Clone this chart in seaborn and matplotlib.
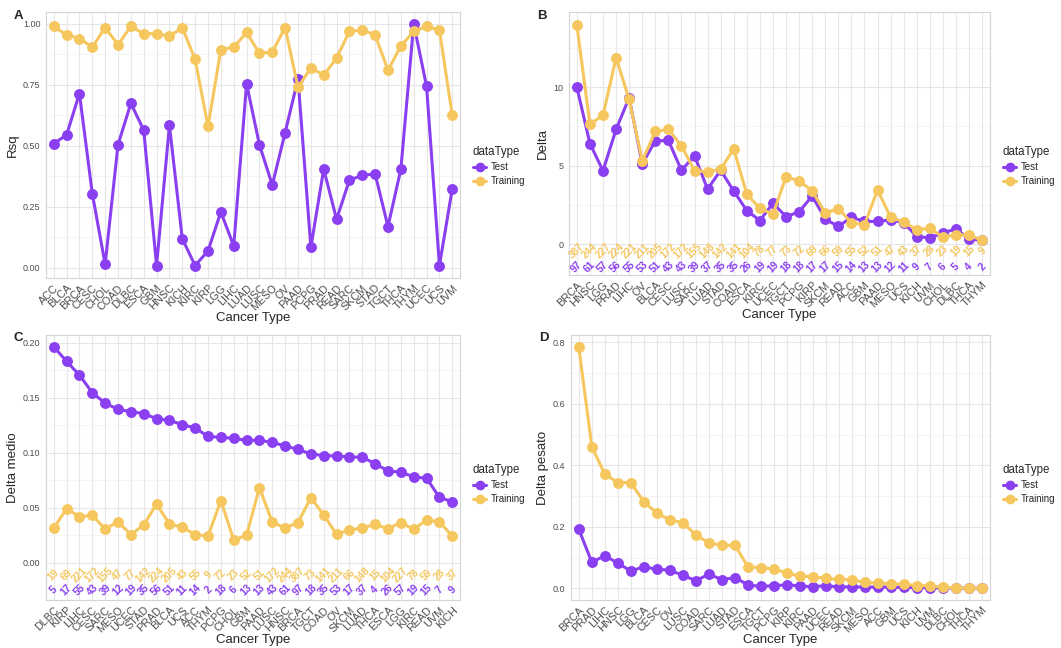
import numpy as np
import pandas as pd
import matplotlib
matplotlib.use("Agg")
import matplotlib.pyplot as plt
from matplotlib.ticker import MultipleLocator, FormatStrFormatter
from matplotlib.lines import Line2D
import seaborn as sns

# ---- data ----
order_a = ['ACC', 'BLCA', 'BRCA', 'CESC', 'CHOL', 'COAD', 'DLBC', 'ESCA', 'GBM', 'HNSC',
           'KICH', 'KIRC', 'KIRP', 'LGG', 'LIHC', 'LUAD', 'LUSC', 'MESO', 'OV', 'PAAD',
           'PCPG', 'PRAD', 'READ', 'SARC', 'SKCM', 'STAD', 'TGCT', 'THCA', 'THYM', 'UCEC',
           'UCS', 'UVM']
rsq_test = [0.51, 0.545, 0.715, 0.305, 0.015, 0.505, 0.675, 0.565, 0.01, 0.585,
            0.12, 0.01, 0.07, 0.23, 0.09, 0.755, 0.505, 0.34, 0.555, 0.775,
            0.085, 0.405, 0.2, 0.36, 0.38, 0.385, 0.17, 0.405, 1.0, 0.745,
            0.01, 0.325]
rsq_train = [0.99, 0.955, 0.94, 0.905, 0.985, 0.915, 0.99, 0.96, 0.96, 0.95,
             0.985, 0.855, 0.58, 0.895, 0.905, 0.965, 0.88, 0.885, 0.985, 0.74,
             0.82, 0.79, 0.86, 0.97, 0.975, 0.955, 0.81, 0.91, 0.97, 0.99,
             0.975, 0.625]

order_b = ['BRCA', 'HNSC', 'LGG', 'PRAD', 'LIHC', 'OV', 'BLCA', 'CESC', 'LUSC', 'SARC',
           'LUAD', 'STAD', 'COAD', 'ESCA', 'KIRC', 'UCEC', 'TGCT', 'PCPG', 'KIRP', 'SKCM',
           'READ', 'ACC', 'GBM', 'PAAD', 'MESO', 'UCS', 'KICH', 'UVM', 'CHOL', 'DLBC',
           'THCA', 'THYM']
delta_test = [10.0, 6.4, 4.67, 7.3, 9.32, 5.1, 6.57, 6.6, 4.7, 5.62,
              3.5, 4.7, 3.38, 2.13, 1.5, 2.6, 1.75, 2.05, 3.07, 1.59,
              1.12, 1.71, 1.44, 1.44, 1.54, 1.37, 0.47, 0.4, 0.7, 0.97,
              0.32, 0.23]
delta_train = [13.95, 7.63, 8.2, 11.86, 9.22, 5.3, 7.17, 7.3, 6.26, 4.67,
               4.6, 4.78, 6.05, 3.17, 2.28, 1.9, 4.29, 4.02, 3.4, 1.97,
               2.26, 1.37, 1.23, 3.45, 1.71, 1.4, 0.91, 1.01, 0.44, 0.59,
               0.59, 0.23]

# sample counts per cancer type
n_train = {'BRCA': 387, 'HNSC': 244, 'LGG': 227, 'PRAD': 224, 'LIHC': 221, 'OV': 211,
           'BLCA': 205, 'CESC': 172, 'LUSC': 172, 'SARC': 155, 'LUAD': 148, 'STAD': 142,
           'COAD': 141, 'ESCA': 104, 'KIRC': 78, 'UCEC': 77, 'TGCT': 73, 'PCPG': 72,
           'KIRP': 69, 'SKCM': 66, 'READ': 59, 'ACC': 55, 'GBM': 52, 'PAAD': 51,
           'MESO': 47, 'UCS': 43, 'KICH': 37, 'UVM': 28, 'CHOL': 23, 'DLBC': 19,
           'THCA': 15, 'THYM': 9}
n_test = {'BRCA': 97, 'HNSC': 61, 'LGG': 57, 'PRAD': 56, 'LIHC': 55, 'OV': 53,
          'BLCA': 51, 'CESC': 43, 'LUSC': 43, 'SARC': 39, 'LUAD': 37, 'STAD': 35,
          'COAD': 35, 'ESCA': 26, 'KIRC': 19, 'UCEC': 19, 'TGCT': 18, 'PCPG': 18,
          'KIRP': 17, 'SKCM': 17, 'READ': 15, 'ACC': 14, 'GBM': 13, 'PAAD': 13,
          'MESO': 12, 'UCS': 11, 'KICH': 9, 'UVM': 7, 'CHOL': 6, 'DLBC': 5,
          'THCA': 4, 'THYM': 2}

order_c = ['DLBC', 'KIRP', 'LIHC', 'CESC', 'SARC', 'MESO', 'UCEC', 'STAD', 'PRAD', 'BLCA',
           'UCS', 'ACC', 'THYM', 'PCPG', 'CHOL', 'GBM', 'PAAD', 'LUSC', 'HNSC', 'BRCA',
           'TGCT', 'COAD', 'OV', 'SKCM', 'LUAD', 'THCA', 'ESCA', 'LGG', 'KIRC', 'READ',
           'UVM', 'KICH']
medio_test = [0.1964, 0.183, 0.1706, 0.1545, 0.145, 0.1394, 0.1373, 0.1355, 0.1309, 0.1294,
              0.1255, 0.1224, 0.1148, 0.1139, 0.113, 0.1112, 0.1112, 0.1094, 0.106, 0.103,
              0.0988, 0.0973, 0.097, 0.0961, 0.0958, 0.09, 0.0833, 0.0824, 0.0779, 0.0767,
              0.0594, 0.0552]
medio_train = [0.0312, 0.0491, 0.0418, 0.043, 0.0306, 0.037, 0.0255, 0.0342, 0.0533, 0.0352,
               0.0321, 0.0255, 0.0242, 0.0564, 0.0206, 0.0248, 0.0682, 0.0367, 0.0315, 0.0364,
               0.0591, 0.0433, 0.0258, 0.0297, 0.0315, 0.0348, 0.0309, 0.0364, 0.0303, 0.0388,
               0.037, 0.0242]

order_d = ['BRCA', 'PRAD', 'LIHC', 'HNSC', 'LGG', 'BLCA', 'CESC', 'OV', 'LUSC', 'COAD',
           'SARC', 'LUAD', 'STAD', 'ESCA', 'TGCT', 'PCPG', 'KIRP', 'KIRC', 'PAAD', 'UCEC',
           'READ', 'SKCM', 'MESO', 'ACC', 'GBM', 'UCS', 'KICH', 'UVM', 'DLBC', 'CHOL',
           'THCA', 'THYM']
pesato_test = [0.192, 0.085, 0.106, 0.082, 0.056, 0.070, 0.062, 0.059, 0.042, 0.025,
               0.046, 0.028, 0.035, 0.011, 0.006, 0.009, 0.011, 0.008, 0.005, 0.009,
               0.004, 0.005, 0.004, 0.004, 0.004, 0.003, 0.002, 0.002, 0.001, 0.001,
               0.001, 0.0]
pesato_train = [0.784, 0.461, 0.371, 0.344, 0.344, 0.281, 0.245, 0.222, 0.214, 0.173,
                0.148, 0.140, 0.140, 0.070, 0.067, 0.063, 0.049, 0.040, 0.038, 0.032,
                0.029, 0.028, 0.019, 0.017, 0.015, 0.013, 0.009, 0.008, 0.003, 0.002,
                0.001, 0.0]

COL_TEST = '#8a3ff0'
COL_TRAIN = '#f5c75e'
palette = {'Test': COL_TEST, 'Training': COL_TRAIN}

sns.set_theme(style='white')
plt.rcParams['font.family'] = ['Liberation Sans', 'DejaVu Sans']

W, H = 1061, 648
fig = plt.figure(figsize=(W / 100, H / 100), dpi=100)


def make_df(order, test, train):
    return pd.DataFrame({
        'cancer': order + order,
        'value': list(test) + list(train),
        'dataType': ['Test'] * len(order) + ['Training'] * len(order),
    })


def panel(box, letter, order, test, train, ylabel, ylim, major, fmt, counts=None, count_y=None,
          legend_y=166):
    l, r, t, b = box
    ax = fig.add_axes([l / W, 1 - b / H, (r - l) / W, (b - t) / H])
    df = make_df(order, test, train)
    sns.pointplot(data=df, x='cancer', y='value', hue='dataType', order=order,
                  hue_order=['Test', 'Training'], palette=palette, errorbar=None,
                  markers='o', markersize=6.2, linewidth=2.2, legend=False, ax=ax)
    ax.set_xlim(-0.6, len(order) - 0.4)
    ax.set_ylim(*ylim)
    ax.yaxis.set_major_locator(MultipleLocator(major))
    ax.yaxis.set_minor_locator(MultipleLocator(major / 2))
    ax.yaxis.set_major_formatter(FormatStrFormatter(fmt))
    ax.set_axisbelow(True)
    ax.grid(True, which='major', color='#e6e6e6', linewidth=0.8)
    ax.grid(True, which='minor', axis='y', color='#f2f2f2', linewidth=0.6)
    for s in ax.spines.values():
        s.set_color('#d4d4d4')
        s.set_linewidth(0.8)
    ax.tick_params(axis='both', which='major', length=2.5, width=0.6, color='#bbbbbb',
                   labelcolor='#4d4d4d', pad=1.5)
    ax.tick_params(axis='y', labelsize=6.5)
    ax.tick_params(axis='x', labelsize=7.8, pad=1)
    ax.tick_params(which='minor', length=0)
    plt.setp(ax.get_xticklabels(), rotation=45, ha='right', rotation_mode='anchor')
    ax.set_xlabel('Cancer Type', fontsize=9.5, labelpad=0)
    ax.set_ylabel(ylabel, fontsize=9.5, labelpad=3)

    if counts is not None:
        for i, c in enumerate(order):
            ax.text(i, count_y[0], str(counts[0][c]), color=COL_TRAIN, fontsize=7.3,
                    fontweight='bold', rotation=45, ha='center', va='center')
            ax.text(i, count_y[1], str(counts[1][c]), color=COL_TEST, fontsize=7.3,
                    fontweight='bold', rotation=45, ha='center', va='center')

    fig.text((l - 32) / W, 1 - 16 / H if t < 100 else 1 - (t + 3) / H, letter,
             fontsize=9.5, fontweight='bold', ha='left', va='center')

    handles = [Line2D([0], [0], color=palette[k], marker='o', markersize=6, linewidth=2.2)
               for k in ['Test', 'Training']]
    fig.legend(handles, ['Test', 'Training'], title='dataType',
               loc='center left', bbox_to_anchor=((r + 6) / W, 1 - legend_y / H),
               frameon=False, fontsize=7, title_fontsize=8.3, handlelength=1.4,
               handletextpad=0.5, labelspacing=0.45, alignment='left', borderpad=0.2)
    return ax


panel((46, 460, 12, 278), 'A', order_a, rsq_test, rsq_train, 'Rsq',
      (-0.041, 1.049), 0.25, '%.2f', legend_y=166)
panel((569, 990, 12, 275), 'B', order_b, delta_test, delta_train, 'Delta',
      (-1.97, 14.78), 5, '%d', counts=(n_train, n_test), count_y=(-0.45, -1.45),
      legend_y=166)
panel((46, 460, 335, 600), 'C', order_c, medio_test, medio_train, 'Delta medio',
      (-0.034, 0.207), 0.05, '%.2f', counts=(n_train, n_test), count_y=(-0.011, -0.025),
      legend_y=484)
panel((571, 990, 335, 600), 'D', order_d, pesato_test, pesato_train, 'Delta pesato',
      (-0.038, 0.824), 0.2, '%.1f', legend_y=484)

fig.savefig('out.png', dpi=100)
